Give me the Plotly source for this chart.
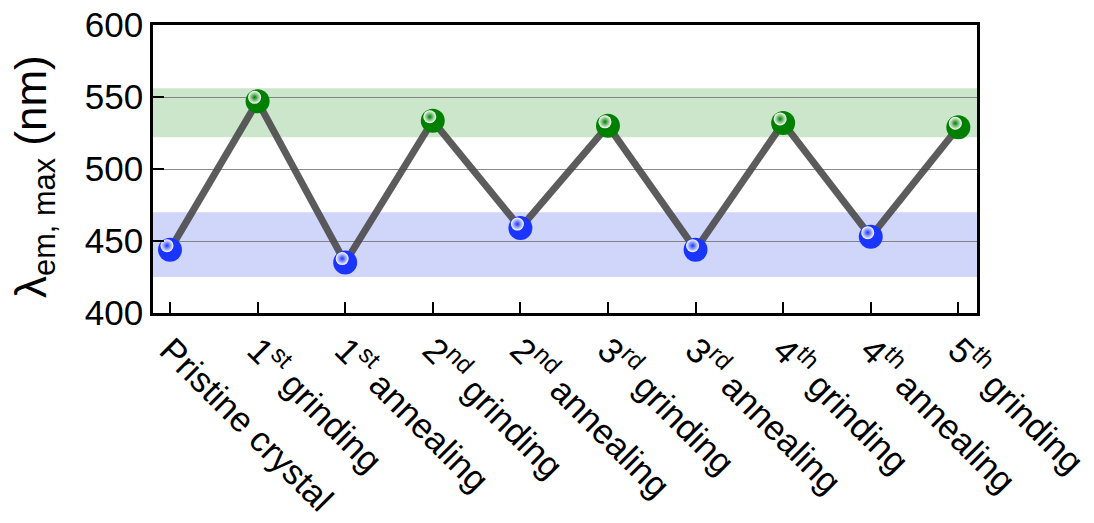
import plotly.graph_objects as go

# Emission maximum over successive grinding / annealing cycles
stages = [
    "Pristine crystal",
    "1<sup>st</sup> grinding",
    "1<sup>st</sup> annealing",
    "2<sup>nd</sup> grinding",
    "2<sup>nd</sup> annealing",
    "3<sup>rd</sup> grinding",
    "3<sup>rd</sup> annealing",
    "4<sup>th</sup> grinding",
    "4<sup>th</sup> annealing",
    "5<sup>th</sup> grinding",
]
lambda_max = [444, 547, 435, 533.5, 459, 530, 444, 532, 453, 529]
state = ["blue", "green", "blue", "green", "blue", "green", "blue", "green", "blue", "green"]

# shaded emission windows (nm)
green_band = [522, 556]
blue_band = [425, 470]

y_ticks = [400, 450, 500, 550, 600]
y_title = "λ<sub>em, max</sub> (nm)"

BLUE = "#1a35ff"
GREEN = "#008000"
colors = [BLUE if s == "blue" else GREEN for s in state]

x_idx = list(range(len(stages)))
x_range = [-0.194, 9.213]
y_range = [400, 600]

fig = go.Figure()

# connecting line
fig.add_trace(go.Scatter(
    x=x_idx, y=lambda_max, mode="lines",
    line=dict(color="rgba(70,70,70,0.88)", width=7),
    hoverinfo="skip", showlegend=False,
))

# spheres
fig.add_trace(go.Scatter(
    x=x_idx, y=lambda_max, mode="markers",
    marker=dict(size=24, color=colors, line=dict(width=0),
                gradient=dict(type="radial", color=colors)),
    showlegend=False,
))

# specular highlights on a slightly offset copy of the axes
px_x = (x_range[1] - x_range[0]) / 824
px_y = (y_range[1] - y_range[0]) / 288
fig.add_trace(go.Scatter(
    x=x_idx, y=lambda_max, mode="markers", xaxis="x2", yaxis="y2",
    marker=dict(size=13, color="rgba(255,255,255,1)", line=dict(width=0),
                gradient=dict(type="radial", color=colors)),
    hoverinfo="skip", showlegend=False,
))

for band, fill in [(green_band, "rgba(204,230,204,1)"), (blue_band, "rgba(208,214,250,1)")]:
    fig.add_shape(type="rect", xref="paper", yref="y", x0=0, x1=1,
                  y0=band[0], y1=band[1], fillcolor=fill, line=dict(width=0),
                  layer="below")

# y-axis title, placed as a rotated annotation
fig.add_annotation(
    text=y_title, textangle=-90, showarrow=False,
    xref="paper", yref="paper", x=0, y=0.5,
    xanchor="center", yanchor="middle", xshift=-119, yshift=-8,
    font=dict(size=44),
)

font_family = "Liberation Sans, Arial, sans-serif"

fig.update_layout(
    width=1094, height=523,
    margin=dict(l=153, r=117, t=25, b=210, autoexpand=False),
    paper_bgcolor="white", plot_bgcolor="white",
    font=dict(family=font_family, size=35, color="black"),
    xaxis=dict(
        range=x_range, tickvals=x_idx, ticktext=stages, tickangle=45,
        ticks="inside", ticklen=11, tickwidth=2, tickcolor="black",
        showline=True, linewidth=2.5, linecolor="black", mirror=True,
        showgrid=False, zeroline=False, automargin=False,
        ticklabeloverflow="allow",
        tickfont=dict(size=35),
    ),
    yaxis=dict(
        range=y_range, tickvals=y_ticks,
        ticks="inside", ticklen=11, tickwidth=2, tickcolor="black",
        showline=True, linewidth=2.5, linecolor="black", mirror=True,
        showgrid=True, gridcolor="rgba(110,110,110,0.8)", gridwidth=1,
        zeroline=False, automargin=False, tickfont=dict(size=35),
    ),
    xaxis2=dict(range=[x_range[0] + 3 * px_x, x_range[1] + 3 * px_x],
                overlaying="x", visible=False, anchor="y2", automargin=False),
    yaxis2=dict(range=[y_range[0] - 4 * px_y, y_range[1] - 4 * px_y],
                overlaying="y", visible=False, anchor="x2", automargin=False),
)

fig.write_html("out.html")
